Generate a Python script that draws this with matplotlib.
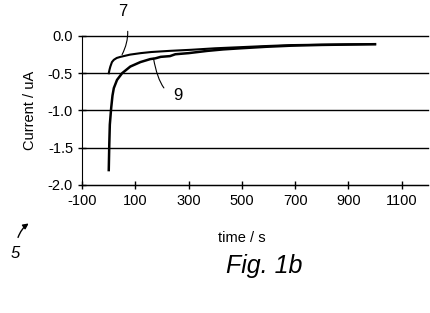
import numpy as np
import matplotlib.pyplot as plt
from matplotlib.patches import FancyArrowPatch

plt.rcParams['font.family'] = ['Liberation Sans', 'DejaVu Sans']
plt.rcParams['axes.unicode_minus'] = False

# curve 7
t7 = [0, 3, 6, 12, 19, 30, 44, 80, 120, 160, 227, 310, 400, 495, 590, 685, 800, 900, 1000]
i7 = [-0.50, -0.45, -0.41, -0.35, -0.32, -0.295, -0.28, -0.25, -0.23, -0.215, -0.20, -0.185, -0.165, -0.15, -0.135, -0.122, -0.116, -0.112, -0.11]
# curve 9
t9 = [0, 2, 4, 9, 14, 19, 31, 50, 81, 119, 156, 175, 195, 230, 250, 300, 370, 430, 495, 590, 685, 800, 900, 1000]
i9 = [-1.80, -1.45, -1.19, -0.97, -0.80, -0.70, -0.59, -0.50, -0.41, -0.35, -0.31, -0.30, -0.28, -0.27, -0.245, -0.23, -0.20, -0.18, -0.165, -0.145, -0.13, -0.12, -0.115, -0.11]

xticks = [-100, 100, 300, 500, 700, 900, 1100]
yticks = [0.0, -0.5, -1.0, -1.5, -2.0]

fig = plt.figure(figsize=(4.3, 3.13), dpi=100)
ax = fig.add_axes([0.191, 0.409, 0.805, 0.476])

ax.plot(t7, i7, color='black', lw=1.5)
ax.plot(t9, i9, color='black', lw=1.8)

ax.set_xlim(-100, 1200)
ax.set_ylim(-2.0, 0.0)
ax.set_xticks(xticks)
ax.set_yticks(yticks)
ax.set_yticklabels([f"{v:.1f}" for v in yticks])
ax.tick_params(direction='inout', length=6, width=1, labelsize=10.5, colors='black')
ax.yaxis.grid(True, color='black', lw=1)
ax.set_axisbelow(True)
for s in ['top', 'right']:
    ax.spines[s].set_visible(False)
for gl in ax.get_ygridlines():
    gl.set_clip_on(False)

ax.set_xlabel('time / s', fontsize=10.5)
ax.xaxis.set_label_coords(0.462, -0.31)
ax.set_ylabel('Current / uA', fontsize=10.5, labelpad=8)

# reference numerals
ax.annotate('7', xy=(50, -0.25), xytext=(52, 0.33), fontsize=12, ha='center', va='center',
            annotation_clip=False,
            arrowprops=dict(arrowstyle='-', color='black', lw=0.8,
                            connectionstyle='arc3,rad=-0.25', shrinkA=7, shrinkB=0))
ax.annotate('9', xy=(168, -0.30), xytext=(258, -0.80), fontsize=12, ha='center', va='center',
            arrowprops=dict(arrowstyle='-', color='black', lw=0.8,
                            connectionstyle='angle3,angleA=180,angleB=100', shrinkA=6, shrinkB=0))
fig.text(0.035, 0.19, '5', fontsize=12, style='italic', ha='center', va='center')
fig.add_artist(FancyArrowPatch((0.040, 0.233), (0.072, 0.291), transform=fig.transFigure,
                               arrowstyle='-|>', mutation_scale=8,
                               connectionstyle='arc3,rad=-0.2', color='black', lw=1))
fig.text(0.615, 0.15, 'Fig. 1b', fontsize=18, style='italic', ha='center', va='center')

fig.savefig('out.png', dpi=100)
